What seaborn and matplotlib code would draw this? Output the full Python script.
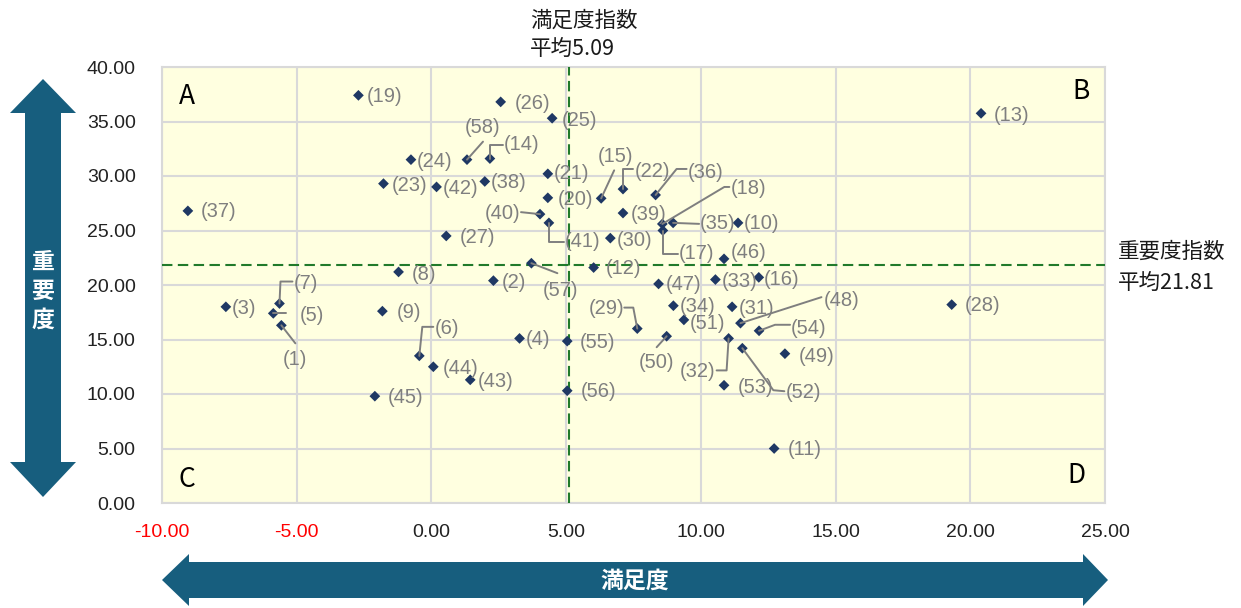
import numpy as np
import pandas as pd
import matplotlib
matplotlib.use("Agg")
import matplotlib.pyplot as plt
import seaborn as sns
from matplotlib.patches import Polygon
from matplotlib.lines import Line2D

# ---------------- data ----------------
ids = list(range(1, 59))
satisfaction = [
    -5.57, 2.30, -7.63, 3.27, -5.87, -0.45, -5.64, -1.22, -1.82, 11.38,
    12.72, 6.02, 20.40, 2.17, 6.30, 12.15, 8.59, 8.57, -2.71, 4.32,
    4.32, 7.11, -1.78, -0.76, 4.48, 2.57, 0.55, 19.31, 7.64, 6.64,
    11.16, 11.03, 10.54, 8.98, 8.97, 8.32, -9.04, 1.98, 7.11, 4.03,
    4.36, 0.19, 1.44, 0.07, -2.10, 10.86, 8.43, 11.47, 13.12, 8.73,
    9.37, 11.54, 10.86, 12.16, 5.04, 5.04, 3.71, 1.32,
]
importance = [
    16.3, 20.4, 18.0, 15.1, 17.4, 13.5, 18.3, 21.2, 17.6, 25.7,
    5.0, 21.6, 35.75, 31.6, 27.95, 20.7, 25.0, 25.6, 37.4, 28.0,
    30.2, 28.8, 29.3, 31.5, 35.3, 36.8, 24.5, 18.2, 16.0, 24.3,
    18.0, 15.1, 20.5, 18.1, 25.7, 28.26, 26.8, 29.5, 26.6, 26.5,
    25.7, 29.0, 11.3, 12.5, 9.8, 22.4, 20.1, 16.5, 13.7, 15.3,
    16.8, 14.2, 10.8, 15.8, 14.85, 10.3, 22.0, 31.5,
]
x_ticks = [-10, -5, 0, 5, 10, 15, 20, 25]
y_ticks = [0, 5, 10, 15, 20, 25, 30, 35, 40]
sat_mean = 5.09
imp_mean = 21.81
x_title = "満足度"
y_title = "重要度"
sat_note = ["満足度指数", "平均5.09"]
imp_note = ["重要度指数", "平均21.81"]
quadrants = ["A", "B", "C", "D"]

# ---------------- label layout (pixel offsets, y down) ----------------
label_off = {
    2: (8, 2), 3: (6, 2), 4: (6, 1), 8: (13, 3), 9: (14, 1), 10: (6, 1),
    11: (14, 1), 12: (12, 1), 13: (13, 2), 16: (5, 2), 19: (8, 1), 20: (10, 2),
    21: (6, 0), 23: (8, 2), 24: (6, 2), 25: (10, 2), 26: (14, 2), 27: (14, 2),
    28: (13, 1), 30: (6, 2), 31: (7, 2), 33: (6, 2), 34: (6, 1), 37: (13, 1),
    38: (6, 1), 39: (8, 1), 42: (6, 2), 43: (8, 2), 44: (9, 2), 45: (13, 1),
    46: (7, -6), 47: (7, 1), 49: (14, 3), 51: (6, 4), 53: (14, 2), 55: (13, 1),
    56: (14, 1),
    1: (14, 34, "center"), 5: (26, 2), 6: (15, -27), 7: (14, -20), 14: (14, -14),
    15: (14, -42, "center"), 17: (16, 23), 18: (68, -35), 22: (12, -18),
    29: (-13, -20, "right"), 32: (-13, 33, "right"), 35: (27, 1), 36: (32, -22),
    40: (-20, -1, "right"), 41: (16, 19), 48: (83, -23), 50: (-10, 26, "center"),
    52: (43, 44), 54: (32, -2), 57: (29, 27, "center"), 58: (16, -32, "center"),
}
leaders = {
    58: [(0, 0), (16, -18)],
    14: [(0, 0), (0, -14), (13, -14)],
    40: [(-19, -2), (0, 0)],
    41: [(0, 0), (0, 19), (15, 19)],
    57: [(0, 0), (26, 10)],
    15: [(0, 0), (13, -28)],
    22: [(0, 0), (0, -20), (10, -20)],
    36: [(0, 0), (21, -26), (31, -26)],
    18: [(0, 0), (62, -37), (67, -37)],
    35: [(0, 0), (26, 1)],
    17: [(0, 0), (0, 23), (15, 23)],
    7: [(0, 0), (1, -22), (13, -22)],
    5: [(0, 0), (13, 0)],
    1: [(0, 0), (14, 18)],
    6: [(0, 0), (3, -29), (14, -29)],
    29: [(-13, -21), (-4, -21), (0, 0)],
    50: [(0, 0), (-10, 11)],
    32: [(0, 0), (-2, 32), (-12, 32)],
    48: [(0, 0), (81, -26)],
    54: [(0, 0), (16, -6), (31, -6)],
    52: [(0, 0), (31, 42), (42, 43)],
}

# ---------------- figure ----------------
sns.set_theme(style="white")
plt.rcParams["font.family"] = ["Liberation Sans", "Noto Sans CJK JP", "DejaVu Sans"]
CJK = ["Noto Sans CJK JP", "DejaVu Sans"]

W, H = 1241, 608
fig = plt.figure(figsize=(W / 100, H / 100), dpi=100)
fig.patch.set_facecolor("white")
L, R, T, B = 162, 1105, 67, 503
ax = fig.add_axes([L / W, 1 - B / H, (R - L) / W, (B - T) / H])
ax.set_facecolor("#FFFFE0")

df = pd.DataFrame({"id": ids, "x": satisfaction, "y": importance})
sns.scatterplot(data=df, x="x", y="y", marker="D", s=30, color="#1F3864",
                edgecolor="none", linewidth=0, ax=ax, zorder=5)

ax.set_xlim(x_ticks[0], x_ticks[-1])
ax.set_ylim(y_ticks[0], y_ticks[-1])
ax.set_xticks(x_ticks)
ax.set_yticks(y_ticks)
ax.set_xticklabels([f"{v:.2f}" for v in x_ticks])
ax.set_yticklabels([f"{v:.2f}" for v in y_ticks])
for lab, v in zip(ax.get_xticklabels(), x_ticks):
    lab.set_color("#FF0000" if v < 0 else "#222222")
for lab in ax.get_yticklabels():
    lab.set_color("#222222")
ax.tick_params(axis="x", length=0, labelsize=14, pad=15)
ax.tick_params(axis="y", length=0, labelsize=14, pad=19)
ax.set_xlabel("")
ax.set_ylabel("")
ax.grid(True, color="#D9D9D9", lw=1.5)
ax.set_axisbelow(True)
for sp in ax.spines.values():
    sp.set_color("#D9D9D9")
    sp.set_linewidth(1.5)

# mean lines
dash = (0, (5, 2.6))
ax.axvline(sat_mean, color="#217A2B", lw=1.5, ls=dash, zorder=3)
ax.axhline(imp_mean, color="#217A2B", lw=1.5, ls=dash, zorder=3)

# point labels
for i, x, y in zip(ids, satisfaction, importance):
    off = label_off.get(i, (7, 1))
    ha = off[2] if len(off) > 2 else "left"
    ax.annotate(f"({i})", xy=(x, y), xytext=(off[0], -off[1]),
                textcoords="offset pixels", ha=ha, va="center",
                fontsize=14.5, color="#7F7F7F", zorder=6)

# leader lines
for i, verts in leaders.items():
    x, y = satisfaction[i - 1], importance[i - 1]
    base = ax.transData.transform((x, y))
    pts = np.array([(base[0] + ox, base[1] - oy) for ox, oy in verts])
    fig.add_artist(Line2D(pts[:, 0] / W, pts[:, 1] / H, transform=fig.transFigure,
                          color="#7F7F7F", lw=1.4, zorder=4))

# quadrant letters
qkw = dict(transform=ax.transAxes, fontsize=19, color="black", family=CJK, va="center")
ax.text(0.018, 0.932, quadrants[0], ha="left", **qkw)
ax.text(0.984, 0.943, quadrants[1], ha="right", **qkw)
ax.text(0.018, 0.053, quadrants[2], ha="left", **qkw)
ax.text(0.979, 0.062, quadrants[3], ha="right", **qkw)

def P(x, y):
    return (x / W, 1 - y / H)

# mean notes
fig.text(*P(530, 21), sat_note[0], fontsize=15.5, family=CJK, color="#1a1a1a", va="center", ha="left")
fig.text(*P(530, 49), sat_note[1], fontsize=15.5, family=CJK, color="#1a1a1a", va="center", ha="left")
fig.text(*P(1118, 252), imp_note[0], fontsize=15.5, family=CJK, color="#1a1a1a", va="center", ha="left")
fig.text(*P(1118, 283), imp_note[1], fontsize=15.5, family=CJK, color="#1a1a1a", va="center", ha="left")

# axis arrows
arrow_col = "#175E7E"
h_arrow = [(162, 580), (189, 554), (189, 562), (1083, 562), (1083, 554), (1108, 580),
           (1083, 606), (1083, 598), (189, 598), (189, 606)]
v_arrow = [(43, 79), (76, 113), (61, 113), (61, 462), (76, 462), (43, 497),
           (10, 462), (25, 462), (25, 113), (10, 113)]
for poly in (h_arrow, v_arrow):
    fig.add_artist(Polygon([P(a, b) for a, b in poly], closed=True,
                           transform=fig.transFigure, facecolor=arrow_col,
                           edgecolor="none"))
fig.text(*P(635, 581), x_title, fontsize=16.5, family=CJK, color="white",
         ha="center", va="center", fontweight="bold")
for k, ch in enumerate(y_title):
    fig.text(*P(43, 262 + 29 * k), ch, fontsize=16.5, family=CJK, color="white",
             ha="center", va="center", fontweight="bold")

fig.savefig("out.png", dpi=100, facecolor="white")
